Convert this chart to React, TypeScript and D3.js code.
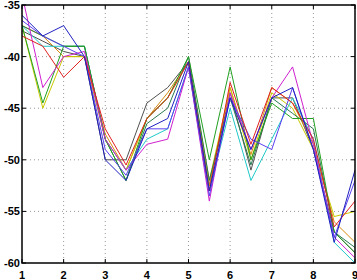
import React from 'react';
import * as d3 from 'd3';

const xs = [1, 1.5, 2, 2.5, 3, 3.5, 4, 4.5, 5, 5.5, 6, 6.5, 7, 7.5, 8, 8.5, 9];

const blue = [-36, -38, -37, -40, -50, -52, -47, -46, -40.5, -53, -44, -49, -44, -43, -49, -58, -51];
const green = [-37, -44.5, -39, -39, -48, -52, -46, -44, -40, -50, -41, -50, -44.5, -46, -46, -57, -59];
const red = [-38, -39, -42, -40, -47, -50.5, -46, -44, -40.5, -53, -42.5, -48.5, -43, -44.5, -48, -56.5, -54];
const cyan = [-37, -39, -39, -39, -48, -51, -48, -47, -41, -53, -45, -52, -48, -44, -48, -58, -60];
const magenta = [-34, -43, -40, -39.5, -48, -51, -48.5, -48, -41, -54, -43.5, -49, -44, -41, -48.5, -57.5, -59.5];
const olive = [-37, -45, -40, -40, -48, -51, -46, -44, -40.5, -52, -43, -50, -43.5, -45, -49, -55.5, -55];
const gray = [-37.5, -38.5, -39.5, -40, -50, -50, -44.5, -43, -40.5, -52.5, -43.5, -51, -44, -44, -49, -57, -59];
const orange = [-37, -38, -40, -40, -47.5, -51, -46, -43.5, -40.5, -52.5, -43, -49.5, -43, -44.5, -48.5, -56, -58];
const purple = [-36.5, -38, -39, -40, -49, -51.5, -47, -47, -41, -53.5, -44, -48, -49, -43, -49, -57.5, -52];
const darkGreen = [-37, -38, -39, -39, -48, -52, -46.5, -45, -40, -52, -44, -50.5, -44, -45.5, -47, -57, -58.5];

const xTicks = [1, 2, 3, 4, 5, 6, 7, 8, 9];
const yTicks = [-35, -40, -45, -50, -55, -60];

const series = [
  { values: gray, color: '#505050' },
  { values: orange, color: '#d88a10' },
  { values: olive, color: '#c8c800' },
  { values: cyan, color: '#20c8c8' },
  { values: darkGreen, color: '#2a7a50' },
  { values: green, color: '#20a020' },
  { values: magenta, color: '#d020d0' },
  { values: purple, color: '#5a40f0' },
  { values: red, color: '#e02020' },
  { values: blue, color: '#2020c0' },
];

const W = 357;
const H = 280;
const m = { left: 22, right: 2, top: 5, bottom: 17 };

export default function App() {
  const x = d3.scaleLinear().domain([1, 9]).range([m.left, W - m.right]);
  const y = d3.scaleLinear().domain([-60, -35]).range([H - m.bottom, m.top]);
  const line = d3
    .line<number>()
    .x((_, i) => x(xs[i]))
    .y((d) => y(d));

  const x0 = x(1);
  const x1 = x(9);
  const y0 = y(-60);
  const y1 = y(-35);

  return (
    <svg width={W} height={H} style={{ position: 'absolute', left: 0, top: 0, background: '#fff' }}>
      <defs>
        <clipPath id="plot">
          <rect x={x0} y={y1} width={x1 - x0} height={y0 - y1} />
        </clipPath>
      </defs>
      {/* dotted grid */}
      {xTicks.slice(1, -1).map((t) => (
        <line key={'gx' + t} x1={x(t)} x2={x(t)} y1={y1} y2={y0} stroke="#999" strokeDasharray="1 3" />
      ))}
      {yTicks.slice(1, -1).map((t) => (
        <line key={'gy' + t} x1={x0} x2={x1} y1={y(t)} y2={y(t)} stroke="#999" strokeDasharray="1 3" />
      ))}
      <g clipPath="url(#plot)">
        {series.map((s, i) => (
          <path key={i} d={line(s.values) || ''} fill="none" stroke={s.color} strokeWidth={1} />
        ))}
      </g>
      {/* frame */}
      <rect x={x0} y={y1} width={x1 - x0} height={y0 - y1} fill="none" stroke="#000" strokeWidth={1.5} />
      {xTicks.map((t) => (
        <g key={'tx' + t}>
          <line x1={x(t)} x2={x(t)} y1={y0} y2={y0 - 4} stroke="#000" />
          <line x1={x(t)} x2={x(t)} y1={y1} y2={y1 + 4} stroke="#000" />
          <text x={x(t)} y={H - 1} textAnchor="middle" fontFamily="Liberation Sans, Arial, sans-serif" fontWeight="bold" fontSize={11}>
            {t}
          </text>
        </g>
      ))}
      {yTicks.map((t) => (
        <g key={'ty' + t}>
          <line x1={x0} x2={x0 + 4} y1={y(t)} y2={y(t)} stroke="#000" />
          <line x1={x1} x2={x1 - 4} y1={y(t)} y2={y(t)} stroke="#000" />
          <text x={x0 - 2} y={y(t) + 4} textAnchor="end" fontFamily="Liberation Sans, Arial, sans-serif" fontWeight="bold" fontSize={11}>
            {t}
          </text>
        </g>
      ))}
    </svg>
  );
}
